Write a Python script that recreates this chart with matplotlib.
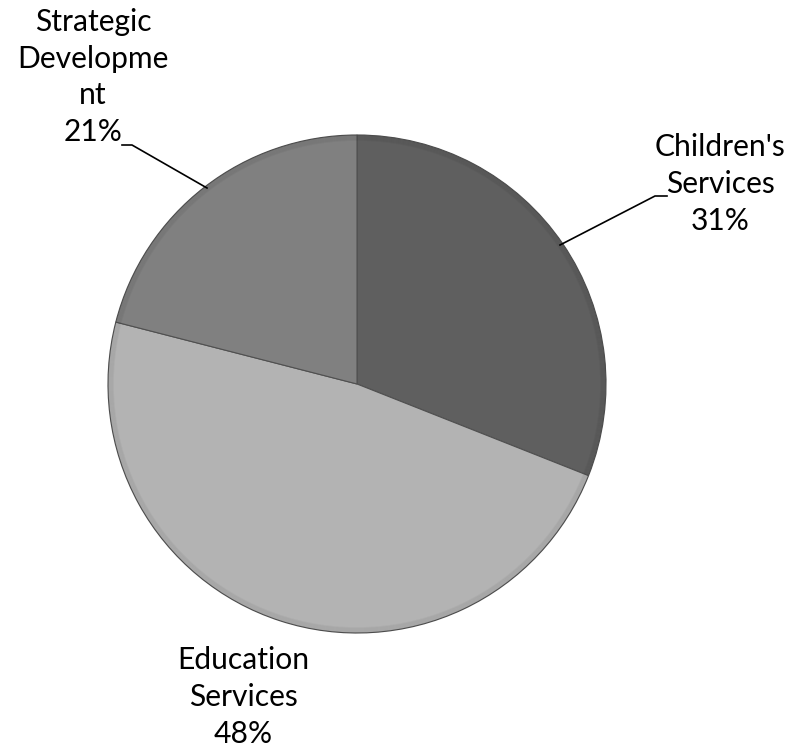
import matplotlib
matplotlib.use("Agg")
import matplotlib.pyplot as plt
from matplotlib.patches import Circle

categories = ["Children's\nServices", "Education\nServices", "Strategic\nDevelopme\nnt"]
values = [31, 48, 21]
colors = ["#5f5f5f", "#b3b3b3", "#808080"]

W, H = 792, 752
fig = plt.figure(figsize=(W / 100, H / 100), dpi=100)
ax = fig.add_axes([0, 0, 1, 1])

cx, cy, r = 357, H - 384, 249
wedges, _ = ax.pie(values, colors=colors, startangle=90, counterclock=False,
                   center=(cx, cy), radius=r, frame=True,
                   wedgeprops=dict(edgecolor="#505050", linewidth=0.8))
ax.set_xlim(0, W)
ax.set_ylim(0, H)
ax.set_aspect("equal")
ax.axis("off")

# subtle bevel rim
for i in range(6):
    ax.add_patch(Circle((cx, cy), r - i * 1.0, fill=False,
                        edgecolor="black", alpha=0.035, linewidth=1.2))

font = dict(family=["Lato", "DejaVu Sans"], fontsize=21.6, linespacing=1.38,
            ha="center", va="center", color="black")

labels_text = [f"{c}\n{v}%" for c, v in zip(categories, values)]
# Children's
ax.text(720, H - 184, labels_text[0], **font)
ax.plot([560, 655, 667], [H - 245, H - 196, H - 196], color="black", lw=1.2)
# Education
ax.text(243, H - 697, labels_text[1], **font)
# Strategic
ax.text(93, H - 77, labels_text[2], **font)
ax.plot([122, 132, 207], [H - 145, H - 145, H - 188], color="black", lw=1.2)

fig.savefig("out.png", dpi=100)
